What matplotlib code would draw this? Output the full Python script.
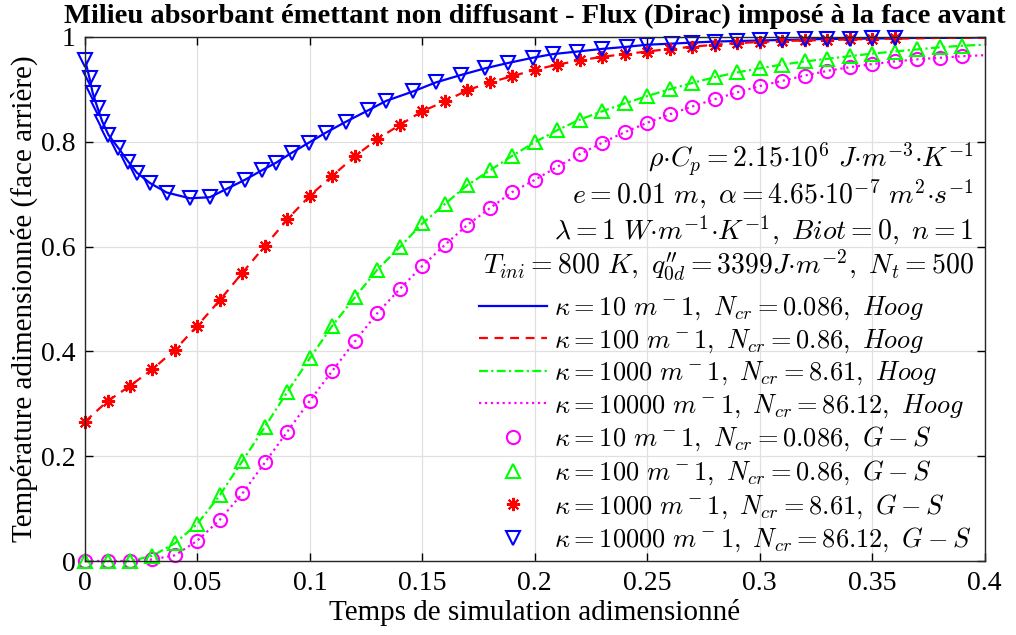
import matplotlib.pyplot as plt
import numpy as np
from matplotlib.ticker import MultipleLocator, FormatStrFormatter

plt.rcParams['font.family'] = ['Liberation Serif', 'DejaVu Serif']
plt.rcParams['mathtext.fontset'] = 'cm'

# --- data --------------------------------------------------------------
# G-S points on a regular grid (magenta circles, green triangles)
t_gs = [0.00, 0.01, 0.02, 0.03, 0.04, 0.05, 0.06, 0.07, 0.08, 0.09,
        0.10, 0.11, 0.12, 0.13, 0.14, 0.15, 0.16, 0.17, 0.18, 0.19,
        0.20, 0.21, 0.22, 0.23, 0.24, 0.25, 0.26, 0.27, 0.28, 0.29,
        0.30, 0.31, 0.32, 0.33, 0.34, 0.35, 0.36, 0.37, 0.38, 0.39]
circ_k10 = [0.000, 0.000, 0.000, 0.003, 0.011, 0.039, 0.079, 0.129, 0.188, 0.247,
            0.306, 0.363, 0.419, 0.473, 0.519, 0.563, 0.603, 0.641, 0.673, 0.704,
            0.727, 0.752, 0.776, 0.798, 0.818, 0.836, 0.852, 0.867, 0.881, 0.894,
            0.906, 0.916, 0.926, 0.935, 0.942, 0.948, 0.953, 0.957, 0.960, 0.963]
tri_k100 = [0.000, 0.000, 0.000, 0.010, 0.034, 0.071, 0.126, 0.191, 0.256, 0.323,
            0.387, 0.449, 0.503, 0.556, 0.599, 0.644, 0.681, 0.717, 0.745, 0.773,
            0.799, 0.822, 0.842, 0.858, 0.873, 0.887, 0.900, 0.912, 0.923, 0.932,
            0.940, 0.947, 0.953, 0.958, 0.963, 0.968, 0.972, 0.976, 0.980, 0.983]

# red asterisks stop at 0.36
t_star = [0.00, 0.01, 0.02, 0.03, 0.04, 0.05, 0.06, 0.07, 0.08, 0.09,
          0.10, 0.11, 0.12, 0.13, 0.14, 0.15, 0.16, 0.17, 0.18, 0.19,
          0.20, 0.21, 0.22, 0.23, 0.24, 0.25, 0.26, 0.27, 0.28, 0.29,
          0.30, 0.31, 0.32, 0.33, 0.34, 0.35, 0.36]
star_k1000 = [0.266, 0.305, 0.334, 0.366, 0.403, 0.449, 0.498, 0.550, 0.601, 0.652,
              0.697, 0.735, 0.772, 0.805, 0.832, 0.858, 0.877, 0.898, 0.913, 0.925,
              0.937, 0.947, 0.955, 0.962, 0.967, 0.972, 0.977, 0.981, 0.985, 0.988,
              0.990, 0.992, 0.993, 0.994, 0.995, 0.996, 0.997]

# blue down-triangles, denser at the start
t_vtri = [0.0000, 0.0020, 0.0034, 0.0056, 0.0077, 0.0104, 0.0148, 0.0192, 0.0230, 0.0289,
          0.0363, 0.0466, 0.0555, 0.0630, 0.0710, 0.0785, 0.0850, 0.0920, 0.0995, 0.1070,
          0.1160, 0.1260, 0.1340, 0.1460, 0.1560, 0.1670, 0.1780, 0.1880, 0.1990, 0.2080,
          0.2190, 0.2300, 0.2410, 0.2500, 0.2610, 0.2700, 0.2800, 0.2900, 0.3000, 0.3100,
          0.3200, 0.3300, 0.3400, 0.3500, 0.3600]
vtri_k10000 = [0.956, 0.921, 0.893, 0.864, 0.838, 0.813, 0.788, 0.762, 0.741, 0.721,
               0.703, 0.692, 0.694, 0.710, 0.727, 0.745, 0.760, 0.779, 0.798, 0.817,
               0.838, 0.860, 0.878, 0.896, 0.913, 0.927, 0.940, 0.950, 0.960, 0.967,
               0.972, 0.977, 0.981, 0.985, 0.987, 0.989, 0.991, 0.992, 0.993, 0.994,
               0.995, 0.996, 0.996, 0.997, 0.997]

# Hoog curves: same curves continued up to t = 0.4
t_tail = [0.37, 0.38, 0.39, 0.40]
blue_tail = [0.998, 0.998, 0.998, 0.999]
red_tail = [0.997, 0.998, 0.998, 0.998]
green_end = 0.985
magenta_end = 0.965

legend_labels = [
    r'$\kappa=10\ m^-1,\ N_{cr}=0.086,\ Hoog$',
    r'$\kappa=100\ m^-1,\ N_{cr}=0.86,\ Hoog$',
    r'$\kappa=1000\ m^-1,\ N_{cr}=8.61,\ Hoog$',
    r'$\kappa=10000\ m^-1,\ N_{cr}=86.12,\ Hoog$',
    r'$\kappa=10\ m^-1,\ N_{cr}=0.086,\ G-S$',
    r'$\kappa=100\ m^-1,\ N_{cr}=0.86,\ G-S$',
    r'$\kappa=1000\ m^-1,\ N_{cr}=8.61,\ G-S$',
    r'$\kappa=10000\ m^-1,\ N_{cr}=86.12,\ G-S$',
]

info_lines = [
    r'$\rho{\cdot}C_p=2.15{\cdot}10^6\ J{\cdot}m^{-3}{\cdot}K^{-1}$',
    r'$e=0.01\ m,\ \alpha=4.65{\cdot}10^{-7}\ m^2{\cdot}s^{-1}$',
    r'$\lambda=1\ W{\cdot}m^{-1}{\cdot}K^{-1},\ Biot=0,\ n=1$',
    r'$T_{ini}=800\ K,\ q^{\prime\prime}_{0d}=3399J{\cdot}m^{-2},\ N_t=500$',
]

# --- figure -------------------------------------------------------------
fig = plt.figure(figsize=(10.16, 6.35), dpi=100)
ax = fig.add_axes([0.0837, 0.1165, 0.8853, 0.8255])

lw = 1.6
ax.plot(t_vtri + t_tail, vtri_k10000 + blue_tail, '-', color='#0000ff', lw=lw,
        label=legend_labels[0])
ax.plot(t_star + t_tail, star_k1000 + red_tail, '--', color='#ff0000', lw=lw,
        dashes=(4, 3), label=legend_labels[1])
ax.plot(t_gs + [0.40], tri_k100 + [green_end], '-.', color='#00ff00', lw=lw,
        dashes=(4, 1.5, 1, 1.5), label=legend_labels[2])
ax.plot(t_gs + [0.40], circ_k10 + [magenta_end], ':', color='#ff00ff', lw=lw,
        label=legend_labels[3])

mk = dict(linestyle='none', markersize=9.5, markeredgewidth=1.5,
          markerfacecolor='none', clip_on=False)
ax.plot(t_gs, circ_k10, marker='o', markeredgecolor='#ff00ff',
        label=legend_labels[4], **mk)
ax.plot(t_gs, tri_k100, marker='^', markeredgecolor='#00ff00',
        label=legend_labels[5], **mk)
ax.plot(t_star, star_k1000, marker=(8, 2, 0), markeredgecolor='#ff0000',
        linestyle='none', markersize=9.5, markeredgewidth=1.5, clip_on=False,
        label=legend_labels[6])
ax.plot(t_vtri, vtri_k10000, marker='v', markeredgecolor='#0000ff',
        label=legend_labels[7], **mk)

ax.set_xlim(0, 0.4)
ax.set_ylim(0, 1)
ax.xaxis.set_major_locator(MultipleLocator(0.05))
ax.yaxis.set_major_locator(MultipleLocator(0.2))
ax.xaxis.set_major_formatter(FormatStrFormatter('%g'))
ax.yaxis.set_major_formatter(FormatStrFormatter('%g'))
ax.tick_params(direction='in', top=True, right=True, length=6, width=1,
               labelsize=20, pad=7)
ax.grid(True, color='#e0e0e0', lw=0.9)
ax.set_axisbelow(True)
for sp in ax.spines.values():
    sp.set_linewidth(1.0)
    sp.set_color('#262626')

ax.set_xlabel('Temps de simulation adimensionné', fontsize=21, labelpad=2)
ax.set_ylabel('Température adimensionnée (face arrière)', fontsize=21, labelpad=2)
ax.set_title('Milieu absorbant émettant non diffusant - Flux (Dirac) imposé à la face avant',
             fontsize=20.5, fontweight='bold', pad=10)

for i, line in enumerate(info_lines):
    ax.text(0.988, 0.767 - i * 0.068, line, transform=ax.transAxes,
            ha='right', va='center', fontsize=20)

ax.legend(loc='lower right', bbox_to_anchor=(1.0, -0.012), frameon=False,
          fontsize=19, handlelength=2.6, handletextpad=0.25,
          labelspacing=0.19, borderaxespad=0.1)

fig.savefig('out.png', dpi=100)
